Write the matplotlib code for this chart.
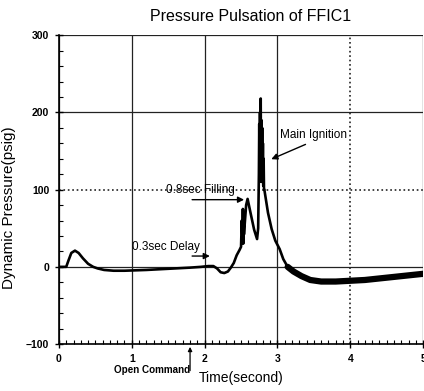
import matplotlib
matplotlib.use("Agg")
import matplotlib.pyplot as plt
from matplotlib.ticker import MultipleLocator

plt.rcParams["font.family"] = ["Liberation Sans", "DejaVu Sans"]

# Pressure trace (time in s, pressure in psig)
time_s = [0.00, 0.10, 0.13, 0.17, 0.22, 0.27, 0.33, 0.40, 0.47, 0.53,
          0.62, 0.75, 0.90, 1.05, 1.20, 1.40, 1.60, 1.80, 1.95, 2.05,
          2.12, 2.17, 2.22, 2.27, 2.32, 2.36, 2.40, 2.44, 2.48, 2.50,
          2.51, 2.52, 2.525, 2.53, 2.535, 2.54, 2.55, 2.57, 2.59, 2.63,
          2.68, 2.72, 2.735, 2.745, 2.75, 2.755, 2.76, 2.765, 2.77, 2.775,
          2.78, 2.785, 2.79, 2.795, 2.80, 2.805, 2.81, 2.815, 2.82, 2.87,
          2.92, 2.97, 3.03, 3.08, 3.14, 3.22, 3.33, 3.45, 3.60, 3.80,
          4.00, 4.20, 4.40, 4.60, 4.80, 5.00]
pressure = [0, 0, 8, 18, 21, 18, 11, 4, 0, -2,
            -4, -5, -5, -4.5, -4, -3, -2, -1, 0, 1,
            1, -2, -7, -8, -6, -1, 5, 15, 22, 26,
            60, 35, 75, 30, 70, 42, 55, 80, 88, 70,
            48, 36, 50, 120, 185, 110, 200, 120, 218, 115,
            190, 110, 180, 112, 160, 105, 140, 100, 100, 70,
            49, 34, 23, 10, 0, -6, -12, -17, -19, -19,
            -18, -17, -15, -13, -11, -9]

x_ticks = [0, 1, 2, 3, 4, 5]
y_ticks = [-100, 0, 100, 200, 300]

fig = plt.figure(figsize=(4.24, 3.91), dpi=100)
ax = fig.add_axes([0.139, 0.120, 0.859, 0.790])

ax.plot(time_s, pressure, color="black", lw=1.9)
# noisy tail looks like a thick band in the scan
tail = [i for i, t in enumerate(time_s) if t >= 3.1]
ax.plot([time_s[i] for i in tail], [pressure[i] for i in tail],
        color="black", lw=4.5, solid_capstyle="round")

ax.set_xlim(0, 5)
ax.set_ylim(-100, 300)
ax.set_xticks(x_ticks)
ax.set_yticks(y_ticks)
ax.xaxis.set_minor_locator(MultipleLocator(0.1))
ax.yaxis.set_minor_locator(MultipleLocator(20))
ax.tick_params(which="major", direction="inout", length=6, width=1,
               labelsize=7.5, pad=4)
ax.tick_params(which="minor", direction="in", length=3, width=0.8)
for lab in ax.get_xticklabels() + ax.get_yticklabels():
    lab.set_fontweight("bold")

for s in ("top", "right"):
    ax.spines[s].set_visible(False)
for s in ("left", "bottom"):
    ax.spines[s].set_linewidth(1.2)

ax.grid(True, color="#222222", lw=0.9)
for g in ax.get_xgridlines():
    if abs(g.get_xdata()[0] - 4) < 1e-6:
        g.set_linestyle(":")
        g.set_linewidth(1.2)
for g in ax.get_ygridlines():
    if abs(g.get_ydata()[0] - 100) < 1e-6:
        g.set_linestyle(":")
        g.set_linewidth(1.2)

ax.set_title("Pressure Pulsation of FFIC1", fontsize=11.5, x=0.525, pad=10)
ax.set_xlabel("Time(second)", fontsize=10, labelpad=5)
ax.set_ylabel("Dynamic Pressure(psig)", fontsize=11)
ax.yaxis.set_label_coords(-0.118, 0.44)

arrow = dict(arrowstyle="-|>", color="black", lw=1.0, mutation_scale=9)
ax.annotate("", xy=(2.11, 14), xytext=(1.79, 14), arrowprops=arrow)
ax.text(1.0, 26, "0.3sec Delay", fontsize=8.5, va="center")
ax.annotate("", xy=(2.58, 87), xytext=(1.79, 87), arrowprops=arrow)
ax.text(1.47, 100, "0.8sec Filling", fontsize=8.5, va="center")
ax.annotate("", xy=(2.88, 138), xytext=(3.42, 160), arrowprops=arrow)
ax.text(3.03, 171, "Main Ignition", fontsize=8.5, va="center")

ax.annotate("", xy=(1.8, -100), xycoords="data",
            xytext=(1.8, -0.095), textcoords=("data", "axes fraction"),
            arrowprops=dict(arrowstyle="-|>", color="black", lw=0.9,
                            mutation_scale=6),
            annotation_clip=False)
ax.text(1.28, -0.083, "Open Command", transform=ax.get_xaxis_transform(),
        fontsize=7.1, fontweight="bold", ha="center", va="center")

fig.savefig("out.png", dpi=100)
